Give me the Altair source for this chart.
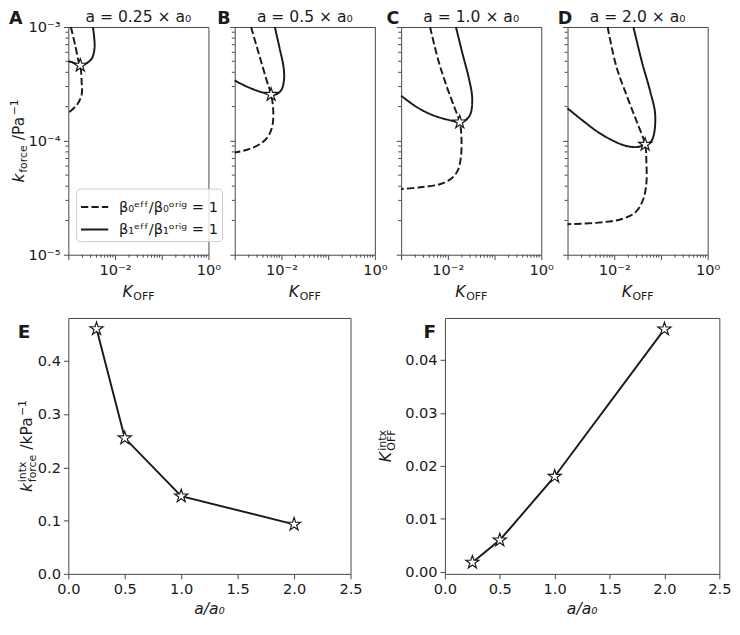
import altair as alt
import pandas as pd

FONT = "DejaVu Sans"
INK = "#1a1a1a"
AXC = "#444444"

# ---------------- data ----------------
a_ratio = [0.25, 0.5, 1.0, 2.0]
k_intx = [0.46, 0.255, 0.146, 0.093]        # kPa^-1
K_intx = [0.0018, 0.006, 0.018, 0.0458]

panel_titles = ["a = 0.25 × a₀", "a = 0.5 × a₀", "a = 1.0 × a₀", "a = 2.0 × a₀"]
panel_letters = ["A", "B", "C", "D"]
curve_labels = ["β₀ᵉᶠᶠ/β₀ᵒʳⁱᵍ = 1", "β₁ᵉᶠᶠ/β₁ᵒʳⁱᵍ = 1"]

# contour curves, read as log10(K_OFF) and log10(k_force / Pa^-1)
A_b0_logK = [-2.945, -2.854, -2.771, -2.745, -2.715, -2.715, -2.806, -2.979, -3.0]
A_b0_logk = [-3.0, -3.159, -3.315, -3.337, -3.483, -3.594, -3.678, -3.747, -3.753]
A_b1_logK = [-2.473, -2.4375, -2.494, -2.598, -2.745, -2.875, -3.0]
A_b1_logk = [-3.0, -3.176, -3.274, -3.315, -3.337, -3.315, -3.301]

B_b0_logK = [-2.651, -2.456, -2.316, -2.222, -2.177, -2.191, -2.281, -2.456, -2.735, -3.0]
B_b0_logk = [-3.0, -3.274, -3.469, -3.593, -3.721, -3.860, -3.958, -4.028, -4.078, -4.103]
B_b1_logK = [-2.142, -2.037, -1.953, -1.946, -2.002, -2.107, -2.222, -2.526, -2.805, -3.0]
B_b1_logk = [-3.0, -3.190, -3.358, -3.469, -3.553, -3.590, -3.593, -3.559, -3.511, -3.469]

C_b0_logK = [-2.381, -2.208, -2.035, -1.860, -1.745, -1.708, -1.723, -1.792, -1.931, -2.173, -2.590, -3.0]
C_b0_logk = [-3.0, -3.287, -3.510, -3.705, -3.836, -3.985, -4.152, -4.264, -4.333, -4.381, -4.408, -4.423]
C_b1_logK = [-1.827, -1.6875, -1.548, -1.479, -1.515, -1.619, -1.745, -1.965, -2.3125, -2.660, -3.0]
C_b1_logk = [-3.0, -3.232, -3.454, -3.622, -3.762, -3.818, -3.836, -3.818, -3.776, -3.705, -3.603]

D_b0_logK = [-2.142, -1.958, -1.715, -1.506, -1.339, -1.3125, -1.3125, -1.381, -1.542, -1.854, -2.340, -3.0]
D_b0_logk = [-3.0, -3.343, -3.622, -3.845, -4.032, -4.180, -4.375, -4.515, -4.626, -4.688, -4.718, -4.732]
D_b1_logK = [-1.590, -1.402, -1.229, -1.125, -1.158, -1.229, -1.339, -1.506, -1.783, -2.271, -2.6875, -3.0]
D_b1_logk = [-3.0, -3.315, -3.567, -3.762, -3.956, -4.013, -4.032, -4.054, -4.040, -3.943, -3.818, -3.714]

x_major = [1e-3, 1e-2, 1e-1, 1.0]
y_major = [1e-5, 1e-4, 1e-3]
y_major_labels = ["10⁻⁵", "10⁻⁴", "10⁻³"]
minor_mult = [2, 3, 4, 5, 6, 7, 8, 9]
x_decades = [1e-3, 1e-2, 1e-1]
y_decades = [1e-5, 1e-4]

e_xticks = [0.0, 0.5, 1.0, 1.5, 2.0, 2.5]
e_yticks = [0.0, 0.1, 0.2, 0.3, 0.4]
f_yticks = [0.0, 0.01, 0.02, 0.03, 0.04]

STAR = ("M0,-1L0.2245,-0.309L0.951,-0.309L0.363,0.118L0.588,0.809L0,0.382"
        "L-0.588,0.809L-0.363,0.118L-0.951,-0.309L-0.2245,-0.309Z")

W_TOP, H_TOP = 144, 234
W_E, W_F, H_BOT = 290, 282, 263

AX_COMMON = dict(title=None, labelFont=FONT, labelFontSize=15, labelColor=INK,
                 tickColor=AXC, tickSize=5, tickWidth=1, domain=False, grid=False,
                 labelPadding=3, labelFlush=False, labelOverlap=False, ticks=True,
                 offset=0)


def label(text, x, y, size=16, style="normal", weight="normal", align="left",
          angle=0, dx=0, dy=0):
    kw = dict(font=FONT, fontSize=size, fontStyle=style, fontWeight=weight,
              align=align, baseline="alphabetic", color=INK, dx=dx, dy=dy)
    if angle:
        kw["angle"] = angle
    return alt.Chart(pd.DataFrame({"t": [text]})).mark_text(**kw).encode(
        text="t:N", x=alt.value(x), y=alt.value(y))


def top_panel(i, b0K, b0k, b1K, b1k, first):
    rows = []
    for lab, Ks, ks in ((curve_labels[0], b0K, b0k), (curve_labels[1], b1K, b1k)):
        for j, (lK, lk) in enumerate(zip(Ks, ks)):
            rows.append({"K": 10 ** lK, "k": 10 ** lk, "curve": lab, "order": j})
    df = pd.DataFrame(rows)
    xs = alt.Scale(type="log", domain=[1e-3, 1.0], nice=False)
    ys = alt.Scale(type="log", domain=[1e-5, 1e-3], nice=False)
    xaxis = alt.Axis(values=x_major, orient="bottom",
                     labelExpr="abs(datum.value - 0.01) < 1e-7 ? '10⁻²' : "
                               "abs(datum.value - 1) < 1e-6 ? '10⁰' : ''",
                     **AX_COMMON)
    yaxis = alt.Axis(values=y_major, orient="left", labels=False, **AX_COMMON)
    if first:
        legend = alt.Legend(title=None, orient="none", legendX=8, legendY=H_TOP - 68,
                            symbolType="stroke", symbolSize=784, symbolStrokeWidth=2,
                            symbolStrokeColor=INK, labelFont=FONT, labelFontSize=15,
                            labelColor=INK, labelOffset=10, padding=4, rowPadding=0,
                            fillColor="rgba(255,255,255,0.8)", strokeColor="#cccccc",
                            cornerRadius=4)
    else:
        legend = None
    X = alt.X("K:Q", scale=xs, axis=xaxis)
    Y = alt.Y("k:Q", scale=ys, axis=yaxis)
    lines = alt.Chart(df).mark_line(color=INK, strokeWidth=2,
                                    interpolate="catmull-rom").encode(
        x=X, y=Y,
        strokeDash=alt.StrokeDash("curve:N", legend=legend,
                                  scale=alt.Scale(domain=curve_labels,
                                                  range=[[7.5, 3.2], [1, 0]])),
        order="order:Q",
    )
    star = alt.Chart(pd.DataFrame({"K": [K_intx[i]], "k": [k_intx[i] * 1e-3]})).mark_point(
        shape=STAR, filled=True, fill="white", stroke=INK, strokeWidth=1.2,
        size=200, opacity=1).encode(x=X, y=Y)
    mx = alt.Chart(pd.DataFrame({"K": [m * d for d in x_decades for m in minor_mult]})).mark_rule(
        color=AXC, strokeWidth=1).encode(
        x=X, y=alt.value(H_TOP), y2=alt.value(H_TOP + 3))
    my = alt.Chart(pd.DataFrame({"k": [m * d for d in y_decades for m in minor_mult]})).mark_rule(
        color=AXC, strokeWidth=1).encode(
        y=Y, x=alt.value(0), x2=alt.value(-3))
    letter_x = [-61, -18, -15, -10]
    layers = [lines, star, mx, my,
              label(panel_titles[i], W_TOP / 2, -5, size=16, align="center"),
              label(panel_letters[i], letter_x[i], -3, size=18, weight="bold"),
              label("K", 55.6, H_TOP + 43, style="italic"),
              label("OFF", 66.8, H_TOP + 46.5, size=11.2)]
    if first:
        ylab = alt.Chart(pd.DataFrame({"k": y_major, "t": y_major_labels})).mark_text(
            font=FONT, fontSize=15, color=INK, align="right", baseline="middle").encode(
            y=Y, x=alt.value(-8), text="t:N")
        xa, ya = -46, H_TOP / 2 + 42.75
        layers += [ylab,
                   label("k", xa, ya, style="italic", angle=270),
                   label("force", xa, ya, size=11.2, angle=270, dx=10, dy=3.5),
                   label("/Pa", xa, ya, angle=270, dx=43.4),
                   label("−1", xa, ya, size=11.2, angle=270, dx=69, dy=-6)]
    return alt.layer(*layers).properties(width=W_TOP, height=H_TOP)


def bottom_panel(xvals, yvals, ydomain, yticks, yfmt, width, letter, letter_x, ylab):
    df = pd.DataFrame({"a": xvals, "v": yvals})
    xs = alt.Scale(domain=[0, 2.5], nice=False, zero=False)
    ys = alt.Scale(domain=ydomain, nice=False, zero=False)
    X = alt.X("a:Q", scale=xs, axis=alt.Axis(values=e_xticks, format=".1f",
                                             orient="bottom", **AX_COMMON))
    Y = alt.Y("v:Q", scale=ys, axis=alt.Axis(values=yticks, format=yfmt,
                                             orient="left", **AX_COMMON))
    line = alt.Chart(df).mark_line(color=INK, strokeWidth=2).encode(x=X, y=Y)
    pts = alt.Chart(df).mark_point(shape=STAR, filled=True, fill="white", stroke=INK,
                                   strokeWidth=1.2, size=200, opacity=1).encode(x=X, y=Y)
    layers = [line, pts,
              label(letter, letter_x, 21, size=19, weight="bold"),
              label("a/a₀", width / 2, H_BOT + 41, style="italic", align="center")]
    layers += ylab
    return alt.layer(*layers).properties(width=width, height=H_BOT)


pA = top_panel(0, A_b0_logK, A_b0_logk, A_b1_logK, A_b1_logk, True)
pB = top_panel(1, B_b0_logK, B_b0_logk, B_b1_logK, B_b1_logk, False)
pC = top_panel(2, C_b0_logK, C_b0_logk, C_b1_logK, C_b1_logk, False)
pD = top_panel(3, D_b0_logK, D_b0_logk, D_b1_logK, D_b1_logk, False)

xe, ye = -37, H_BOT / 2 + 47.25
e_ylab = [label("k", xe, ye, style="italic", angle=270),
          label("intx", xe, ye, size=11.2, angle=270, dx=10, dy=-6),
          label("force", xe, ye, size=11.2, angle=270, dx=10, dy=3.5),
          label("/kPa", xe, ye, angle=270, dx=43.4),
          label("−1", xe, ye, size=11.2, angle=270, dx=78, dy=-6)]
xf, yf = -55, H_BOT / 2 + 16.85
f_ylab = [label("K", xf, yf, style="italic", angle=270),
          label("intx", xf, yf, size=11.2, angle=270, dx=12, dy=-6),
          label("OFF", xf, yf, size=11.2, angle=270, dx=12, dy=3.5)]

pE = bottom_panel(a_ratio, k_intx, [0, 0.4804], e_yticks, ".1f", W_E, "E", -52, e_ylab)
pF = bottom_panel(a_ratio, K_intx, [-0.00037, 0.0479], f_yticks, ".2f", W_F, "F", -22, f_ylab)

top = alt.hconcat(pA, pB, pC, pD, spacing=27, bounds="flush").resolve_scale(
    strokeDash="independent")
bottom = alt.hconcat(pE, pF, spacing=97, bounds="flush")

chart = alt.vconcat(top, bottom, spacing=14).resolve_scale(
    strokeDash="independent").properties(
    padding={"top": -8, "left": 0, "right": 0, "bottom": 0}).configure_view(
    stroke=AXC, strokeWidth=1)

chart.save("out.html", embed_options={"renderer": "svg", "actions": False})
